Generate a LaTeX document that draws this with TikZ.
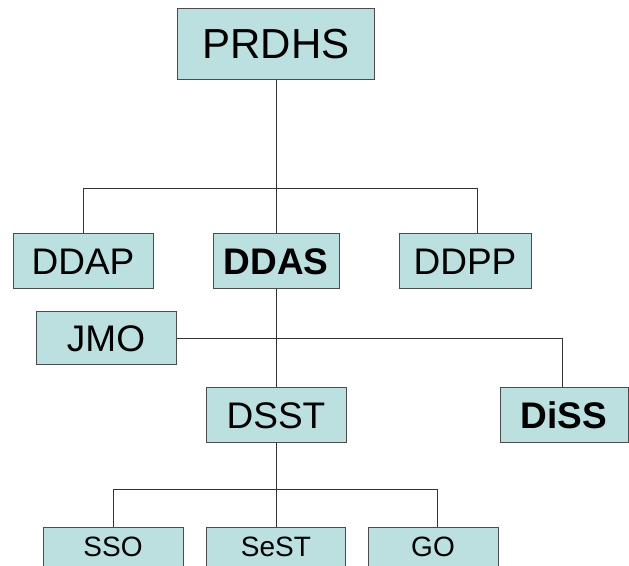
\documentclass[tikz,border=0pt]{standalone}
\usepackage{fontspec}
\setmainfont{Liberation Sans}
\begin{document}
\begin{tikzpicture}[x=1pt,y=1pt,
  orgbox/.style={draw=black!70,line width=1pt,fill=boxfill,rectangle,inner sep=0pt,anchor=center},
  midtext/.style={font=\fontsize{37}{37}\selectfont},
  boldtext/.style={font=\fontsize{37}{37}\selectfont\bfseries},
  lowtext/.style={font=\fontsize{28}{28}\selectfont},
  link/.style={draw=black!80,line width=0.9pt}]
\definecolor{boxfill}{HTML}{BCE0E0}
\useasboundingbox (0,0) rectangle (629,565);
\clip (0,0) rectangle (629,565);
\fill[white] (0,0) rectangle (629,565);
% nodes (y = 565 - pixel y)
\node[orgbox,minimum width=197,minimum height=71,font=\fontsize{42}{42}\selectfont] (prdhs) at (276,520.5) {PRDHS};
\node[orgbox,minimum width=140,minimum height=55,midtext] (ddap) at (83,303.5) {DDAP};
\node[orgbox,minimum width=126,minimum height=55,boldtext] (ddas) at (276,303.5) {DDAS};
\node[orgbox,minimum width=132,minimum height=55,midtext] (ddpp) at (465,303.5) {DDPP};
\node[orgbox,minimum width=140,minimum height=53,midtext] (jmo) at (106,226.5) {JMO};
\node[orgbox,minimum width=140,minimum height=55,midtext] (dsst) at (276,149.5) {DSST};
\node[orgbox,minimum width=128,minimum height=55,boldtext] (diss) at (564,149.5) {DiSS};
\node[orgbox,minimum width=140,minimum height=40,lowtext] (sso) at (113,18) {SSO};
\node[orgbox,minimum width=139,minimum height=40,lowtext] (sest) at (276,18) {SeST};
\node[orgbox,minimum width=130,minimum height=40,lowtext] (go) at (433,18) {GO};
% junctions
\coordinate (j1) at (276,377);
\coordinate (j2) at (276,76);
% connectors
\draw[link] (prdhs.south) -- (j1);
\draw[link] (ddap.north) |- (j1);
\draw[link] ([xshift=12pt]ddpp.north) |- (j1);
\draw[link] (ddas.north) -- (j1);
\draw[link] (ddas.south) -- (dsst.north);
\draw[link] (jmo.east) -| ([xshift=-2pt]diss.north);
\draw[link] (dsst.south) -- (j2);
\draw[link] (sso.north) |- (j2);
\draw[link] (sest.north) -- (j2);
\draw[link] ([xshift=4pt]go.north) |- (j2);
\end{tikzpicture}
\end{document}
